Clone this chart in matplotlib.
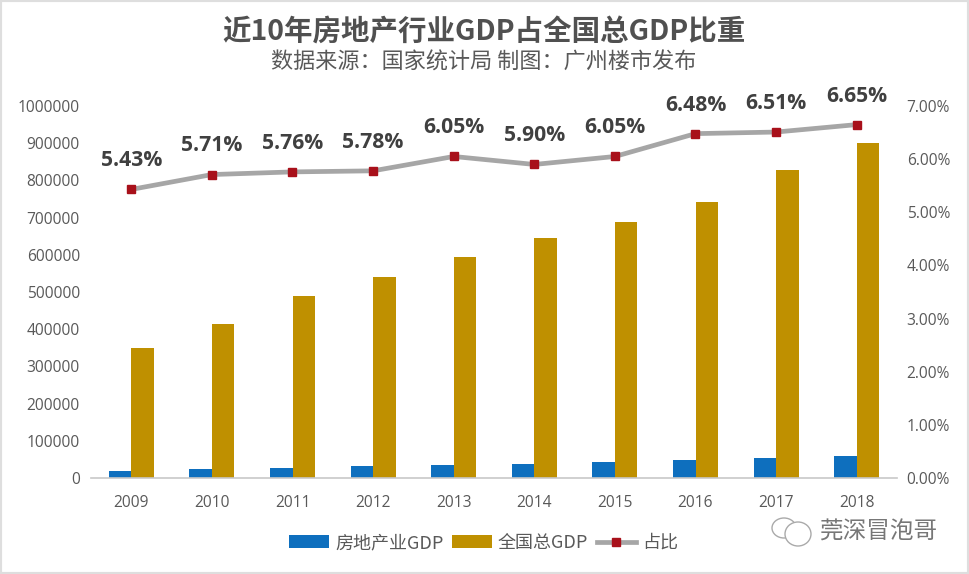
import matplotlib
matplotlib.use('Agg')
import matplotlib.pyplot as plt
from matplotlib.patches import Ellipse, Rectangle
import numpy as np

plt.rcParams['font.family'] = ['Open Sans', 'Noto Sans CJK SC', 'DejaVu Sans']

years = ['2009','2010','2011','2012','2013','2014','2015','2016','2017','2018']
realestate = [18900, 23600, 28200, 31200, 35900, 38000, 41700, 48200, 53800, 59800]
gdp = [349000, 413000, 489000, 540000, 595000, 644000, 689000, 741000, 828000, 900000]
share = [5.43, 5.71, 5.76, 5.78, 6.05, 5.90, 6.05, 6.48, 6.51, 6.65]
labels = ['5.43%','5.71%','5.76%','5.78%','6.05%','5.90%','6.05%','6.48%','6.51%','6.65%']
left_ticks = list(range(0, 1000001, 100000))
right_ticks = [0,1,2,3,4,5,6,7]

W,H = 969,574
fig = plt.figure(figsize=(W/100,H/100), dpi=100, facecolor='white')
ax = fig.add_axes([91/W, 1-478/H, (897-91)/W, (478-106)/H])
x = np.arange(10)
bw = 0.28
b1 = ax.bar(x-bw/2, realestate, bw, color='#0E6FBE', label='房地产业GDP')
b2 = ax.bar(x+bw/2, gdp, bw, color='#BF9000', label='全国总GDP')
ax.set_xlim(-0.5,9.5); ax.set_ylim(0,1000000)
ax.set_yticks(left_ticks); ax.set_yticklabels([str(v) for v in left_ticks])
ax.set_xticks(x); ax.set_xticklabels(years)
ax.tick_params(axis='both', length=0, labelsize=11.2, labelcolor='#595959')
ax.tick_params(axis='x', pad=12); ax.tick_params(axis='y', pad=8)
for s in ['top','left','right']: ax.spines[s].set_visible(False)
ax.spines['bottom'].set_color('#C8C8C8'); ax.spines['bottom'].set_linewidth(1.2)

ax2 = ax.twinx()
l, = ax2.plot(x, share, color='#A6A6A6', lw=3.4, marker='s', ms=6.2, mfc='#A8101A', mec='#A8101A', label='占比')
ax2.set_ylim(0,7); ax2.set_yticks(right_ticks); ax2.set_yticklabels([f'{v:.2f}%' for v in right_ticks])
ax2.tick_params(axis='y', length=0, labelsize=11.2, labelcolor='#595959', pad=7)
for s in ['top','left','right','bottom']: ax2.spines[s].set_visible(False)
for xi,v,t in zip(x,share,labels):
    ax2.annotate(t,(xi,v),xytext=(0,13),textcoords='offset points',ha='center',va='bottom',
                 fontsize=15.2,fontweight='bold',color='#404040')

fig.text(484/W,1-33/H,'近10年房地产行业GDP占全国总GDP比重',ha='center',va='center',fontsize=20.5,fontweight='bold',color='#505050',family=['Noto Sans CJK SC'])
fig.text(484/W,1-63/H,'数据来源：国家统计局 制图：广州楼市发布',ha='center',va='center',fontsize=15.9,color='#595959',family=['Noto Sans CJK SC'])

fig.legend(handles=[b1,b2,l],loc='center',bbox_to_anchor=(484/W,1-543/H),ncol=3,frameon=False,
           labelcolor='#595959',handlelength=2.2,columnspacing=0.45,handletextpad=0.35,prop={'family':['Noto Sans CJK SC'],'size':13})

# image frame and watermark
fig.add_artist(Rectangle((0,0),1,1,transform=fig.transFigure,fill=False,ec='#DEDEDE',lw=3))
for cx,cy,w,h in [(784,528,24,20),(798,534,26,24)]:
    fig.add_artist(Ellipse((cx/W,1-cy/H),w/W,h/H,transform=fig.transFigure,fc='white',ec='#AAAAAA',lw=1))
fig.text(878/W,1-532/H,'莞深冒泡哥',ha='center',va='center',fontsize=17,color='#777777',family=['Noto Sans CJK SC'])
fig.savefig('out.png',dpi=100)
